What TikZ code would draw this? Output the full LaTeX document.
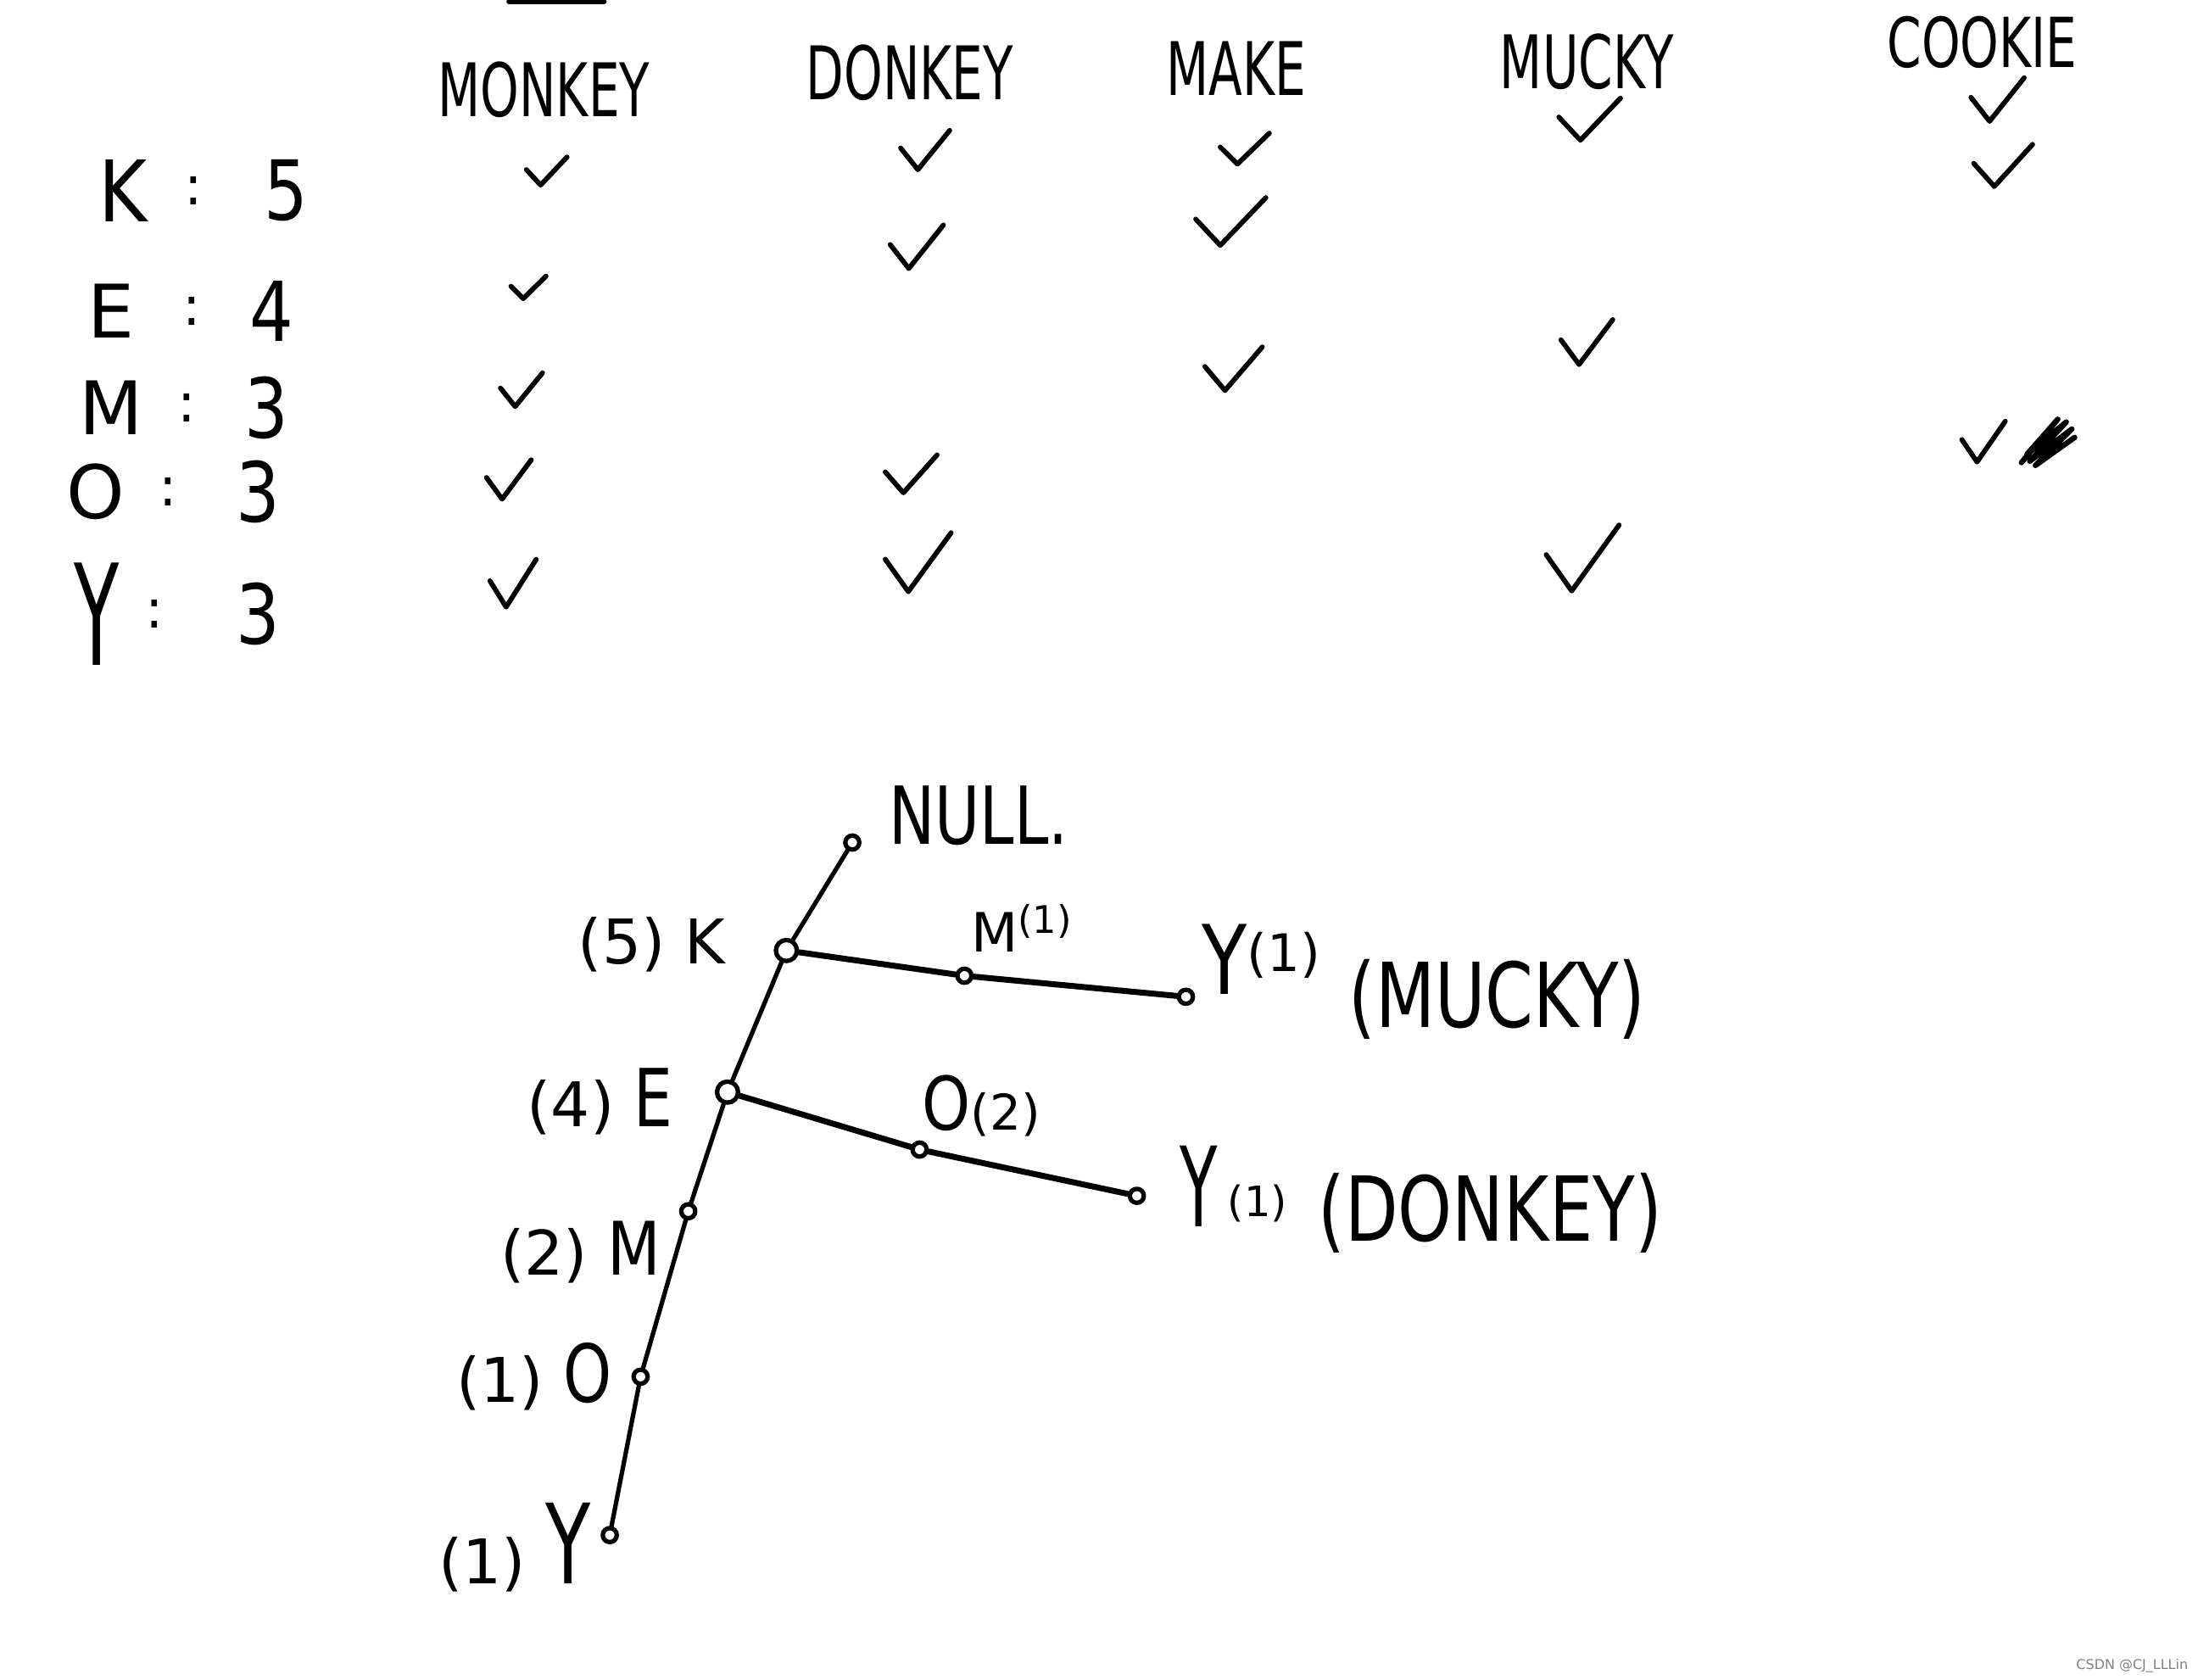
\documentclass[tikz,border=0pt]{standalone}
\usepackage{fontspec}
\setmainfont{DejaVu Sans}

\newcommand{\stretchy}[2][1.5]{\scalebox{1}[#1]{#2}}

\begin{document}
\begin{tikzpicture}
    [x=0.02cm, y=-0.02cm, line cap=round, line join=round,
    % Styles
    word/.style={font=\fontsize{20}{20}\selectfont, inner sep=0pt},
    letter/.style={font=\fontsize{30}{30}\selectfont, inner sep=0pt},
    freq/.style={font=\fontsize{28}{28}\selectfont, inner sep=0pt},
    colon/.style={font=\fontsize{22}{22}\selectfont, inner sep=0pt},
    tree label/.style={font=\fontsize{25}{25}\selectfont, inner sep=0pt},
    path label/.style={font=\fontsize{28}{28}\selectfont, inner sep=0pt},
    tnode/.style={circle, draw, line width=1.8pt, fill=white, inner sep=0pt, minimum size=0.2cm},
    big tnode/.style={tnode, minimum size=0.3cm},
    trunk/.style={line width=1.8pt},
    branch/.style={line width=2.4pt},
    pics/tick/.style={code={\draw[line width=2pt] (-0.5,-0.05) -- (-0.15,0.5) -- (0.5,-0.5);}}]

    \useasboundingbox (0,0) rectangle (1568,1198);

    % Transactions
    \node[word] (monkey) at (388,64) {\stretchy{MONKEY}};
    \node[word] (donkey) at (649,52) {\stretchy{DONKEY}};
    \node[word] (make)   at (882,49) {\stretchy{MAKE}};
    \node[word] (mucky)  at (1132,44) {\stretchy{MUCKY}};
    \node[word] (cookie) at (1414,30) {\stretchy[1.4]{COOKIE}};

    % Item counts
    \foreach \item/\count/\s/\lx/\cx/\nx/\y in {K/5/1.15/88/138/204/136, E/4/1/79/137/194/222,
        M/3/1/79/133/190/291, O/3/1/68/120/184/351, Y/3/1.9/69/110/184/438}
    {
        \node[letter] (item-\item) at (\lx,\y) {\stretchy[\s]{\item}};
        \node[colon] (colon-\item) at (\cx,\y) {:};
        \node[freq] (freq-\item) at (\nx,\y) {\stretchy[1.2]{\count}};
    }

    % Ticks
    \foreach \x/\y/\w/\h in {390/122/29/20, 377/205/25/16, 372/278/30/24, 363/342/32/28, 366/416/33/34,
        660/107/35/28, 654/176/38/31, 650/338/37/27, 655/401/47/42,
        888/106/35/22, 878/158/50/34, 880/263/41/31,
        1134/85/44/30, 1132/244/37/32, 1129/398/52/47,
        1425/71/38/31, 1429/118/42/30, 1415/315/31/29}
        \pic[xscale=\w, yscale=\h] at (\x,\y) {tick};

    % scribble next to the last tick
    \draw[line width=2.2pt] (1442,330) -- (1468,299) -- (1446,324) -- (1474,301)
        -- (1448,329) -- (1478,306) -- (1452,332) -- (1480,312);
    \draw[line width=2pt] (363,1) -- (431,1);

    % Tree
    \node[tnode]     (null) at (608,601) {};
    \node[big tnode] (k)    at (561,678) {};
    \node[tnode]     (km)   at (688,696) {};
    \node[tnode]     (kmy)  at (846,711) {};
    \node[big tnode] (e)    at (519,779) {};
    \node[tnode]     (eo)   at (656,820) {};
    \node[tnode]     (eoy)  at (811,853) {};
    \node[tnode]     (m)    at (491,864) {};
    \node[tnode]     (o)    at (457,982) {};
    \node[tnode]     (y)    at (435,1095) {};

    \draw[trunk] (null) -- (k) -- (e) -- (m) -- (o) -- (y);
    \draw[branch] (k) -- (km) -- (kmy);
    \draw[branch] (e) -- (eo) -- (eoy);

    % Labels
    \node[tree label] (null label) at (698,582) {\stretchy[1.3]{NULL.}};
    \node[tree label] (k label) at (465,674) {(5) K};
    \node[tree label] (e label) at (428,786) {(4) \stretchy[1.3]{E}};
    \node[tree label] (m label) at (414,893) {(2) \stretchy[1.2]{M}};
    \node[tree label] (o label) at (381,982) {(1) \stretchy[1.3]{O}};
    \node[tree label] (y label) at (367,1104) {(1) {\fontsize{30}{30}\selectfont\stretchy[1.5]{Y}}};
    \node[tree label, font=\fontsize{22}{22}\selectfont] (km label) at (729,662) {M\textsuperscript{(1)}};
    \node[tree label, font=\fontsize{30}{30}\selectfont] (kmy label) at (900,684) {\stretchy[1.3]{Y}\textsuperscript{(1)}};
    \node[tree label] (eo label) at (700,789) {\stretchy[1.2]{O}{\fontsize{20}{20}\selectfont(2)}};
    \node[tree label] (eoy label) at (880,846) {\stretchy[1.8]{Y}\,\raisebox{4pt}{\fontsize{17}{17}\selectfont(1)}};
    \node[path label] (mucky path) at (1068,713) {\stretchy[1.3]{(MUCKY)}};
    \node[path label] (donkey path) at (1063,865) {\stretchy[1.3]{(DONKEY)}};

    \node[font=\fontsize{5.5}{5.5}\selectfont, text=gray, inner sep=0pt] (mark) at (1521,1188) {CSDN @CJ\_LLLin};

\end{tikzpicture}
\end{document}
